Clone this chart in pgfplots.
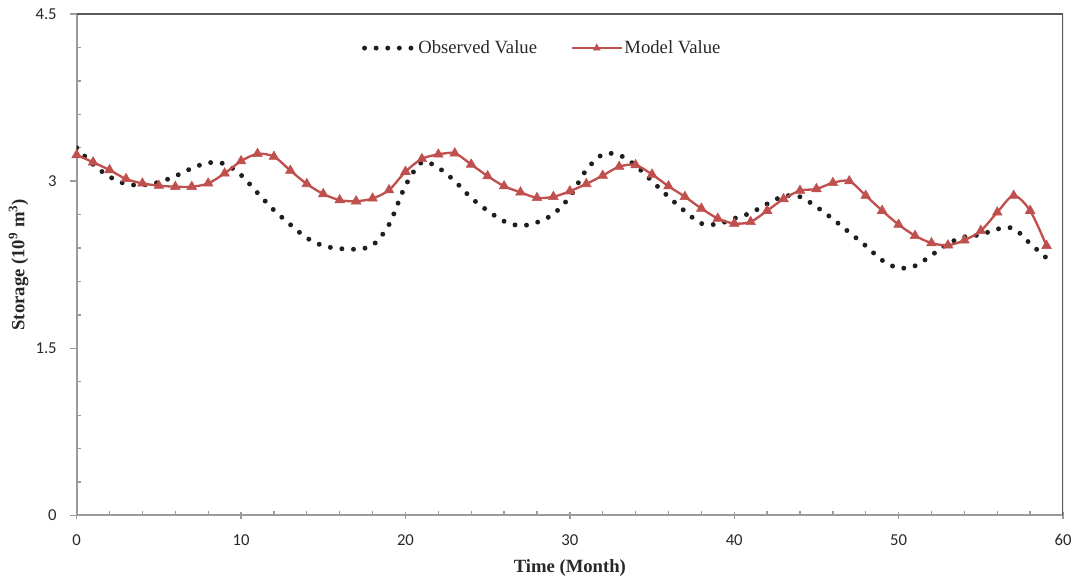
\documentclass[border=0pt]{standalone}
\usepackage{fontspec}
\setmainfont{Liberation Serif}
\newfontfamily\calibri{Carlito}
\usepackage{pgfplots}
\usepackage{pgfplotstable}
\pgfplotsset{compat=1.18}
\usetikzlibrary{calc}
\definecolor{modelred}{RGB}{192,80,77}
\definecolor{obsblack}{RGB}{30,30,30}
\definecolor{axisgray}{RGB}{155,155,155}
\definecolor{bordergray}{RGB}{90,90,90}
\definecolor{ticktext}{RGB}{40,40,40}

\pgfplotsset{
  obslegend/.style={legend image code/.code={\draw[##1] (0pt,0pt) -- (37pt,0pt);}},
  modlegend/.style={legend image code/.code={\draw[##1, mark repeat=2, mark phase=2, mark size=3pt] plot coordinates {(0pt,0pt) (18.4pt,0pt) (36.8pt,0pt)};}},
}

\pgfplotstableread{
m v
0 3.30
1 3.15
2 3.04
3 2.975
4 2.965
5 2.99
6 3.045
7 3.115
8 3.165
9 3.155
10 3.055
11 2.895
12 2.74
13 2.61
14 2.49
15 2.42
16 2.395
17 2.39
18 2.425
19 2.61
20 2.96
21 3.17
22 3.12
23 3.00
24 2.85
25 2.735
26 2.64
27 2.60
28 2.63
29 2.705
30 2.86
31 3.10
32 3.24
33 3.235
34 3.14
35 3.00
36 2.86
37 2.73
38 2.62
39 2.615
40 2.665
41 2.715
42 2.795
43 2.865
44 2.86
45 2.77
46 2.66
47 2.54
48 2.42
49 2.29
50 2.22
51 2.24
52 2.335
53 2.44
54 2.50
55 2.52
56 2.57
57 2.575
58 2.44
59 2.31
}\observed

\pgfplotstableread{
m v
0 3.235
1 3.17
2 3.10
3 3.02
4 2.98
5 2.96
6 2.95
7 2.95
8 2.98
9 3.07
10 3.18
11 3.245
12 3.22
13 3.095
14 2.975
15 2.885
16 2.83
17 2.82
18 2.845
19 2.92
20 3.085
21 3.20
22 3.24
23 3.25
24 3.15
25 3.045
26 2.955
27 2.90
28 2.85
29 2.86
30 2.91
31 2.975
32 3.05
33 3.13
34 3.145
35 3.06
36 2.955
37 2.86
38 2.755
39 2.665
40 2.62
41 2.635
42 2.735
43 2.84
44 2.915
45 2.93
46 2.985
47 3.00
48 2.87
49 2.735
50 2.61
51 2.51
52 2.445
53 2.425
54 2.47
55 2.555
56 2.72
57 2.87
58 2.735
59 2.42
}\model

\begin{document}
\begin{tikzpicture}
\begin{axis}[
  scale only axis, width=739.7pt, height=376.1pt,
  xmin=0, xmax=60, ymin=0, ymax=4.5,
  axis x line*=bottom, axis y line*=left,
  axis line style={axisgray, line width=1.5pt, -},
  xtick={0,10,...,60}, minor x tick num=4,
  ytick={0,1.5,3,4.5}, yticklabels={0,1.5,3,4.5}, minor y tick num=4,
  tick align=inside,
  major tick length=5pt, minor tick length=3pt,
  tick style={axisgray, line width=1pt},
  major y tick style={xshift=-5pt},
  major x tick style={yshift=-2.5pt},
  tick label style={font=\calibri\fontsize{12.5}{15}\selectfont, text=ticktext},
  /pgf/number format/assume math mode=true,
  xticklabel style={anchor=center, yshift=-18.4pt, inner sep=0pt},
  yticklabel style={anchor=east, xshift=-14.8pt, inner sep=0pt},
  xlabel={Time (Month)},
  ylabel={Storage (10\textsuperscript{9} m\textsuperscript{3})},
  label style={font=\bfseries\fontsize{14}{17}\selectfont, text=ticktext},
  xlabel style={at={(axis description cs:0.5,-0.1048)}, anchor=center},
  ylabel style={at={(axis description cs:-0.0588,0.5)}, anchor=center},
  legend style={draw=none, fill=none, at={(0.472,0.932)}, anchor=center,
    font=\fontsize{14}{17}\selectfont, text=ticktext, legend columns=2,
    /tikz/every even column/.append style={column sep=24pt},
    nodes={inner sep=1.5pt}},
]
\addplot[smooth, color=obsblack, line width=3.7pt, line cap=round,
  dash pattern=on 0pt off 8.7pt, obslegend]
  table[x=m, y=v] {\observed};
\addlegendentry{Observed Value}
\addplot[smooth, color=modelred, line width=1.75pt, mark=triangle*, mark size=4.2pt,
  mark options={solid, line width=0.4pt, fill=modelred}, modlegend]
  table[x=m, y=v] {\model};
\addlegendentry{Model Value}
\draw[bordergray, line width=1.2pt] (rel axis cs:0,1) -- (rel axis cs:1,1) -- (rel axis cs:1,0);
\end{axis}
\pgfresetboundingbox
\path[use as bounding box] ($(current axis.south west)+(-57.5pt,-50.6pt)$) rectangle ($(current axis.north east)+(9pt,10.5pt)$);
\end{tikzpicture}
\end{document}
